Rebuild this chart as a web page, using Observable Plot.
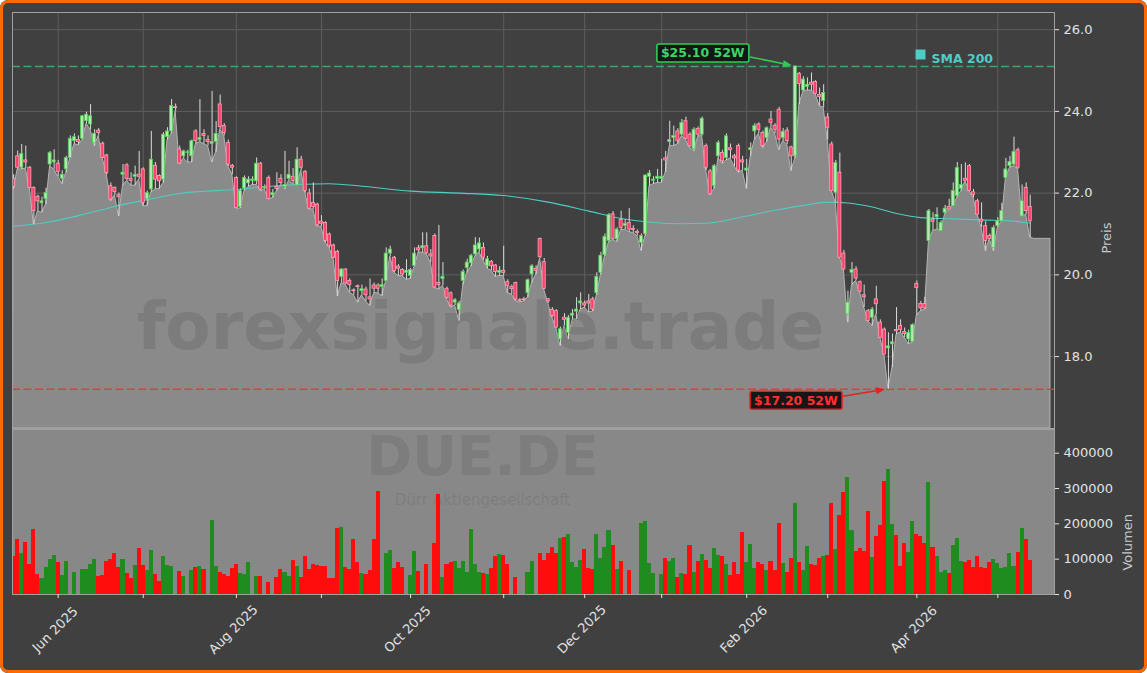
<!DOCTYPE html>
<html><head><meta charset="utf-8">
<script src="https://cdn.jsdelivr.net/npm/d3@7"></script>
<script src="https://cdn.jsdelivr.net/npm/@observablehq/plot@0.6"></script>
<style>
html,body{margin:0;padding:0;background:#ffffff;}
#wrap{position:relative;width:1147px;height:673px;background:#404040;border-radius:8px;overflow:hidden;}
#wrap svg{position:absolute;left:0;}
#border{position:absolute;left:0;top:0;width:1147px;height:673px;box-sizing:border-box;border:3px solid #ff6a00;border-radius:8px;pointer-events:none;z-index:5;}
</style></head>
<body><div id="wrap"><div id="border"></div></div>
<script>
// ---- data (trading-day index 0 = 2025-05-16) ----
const open = [
22.35,22.90,22.62,22.80,22.62,22.13,21.91,21.75,21.85,22.70,
22.75,22.72,22.35,22.58,22.86,23.27,23.30,23.33,23.76,23.68,
23.22,23.53,23.21,22.92,22.17,22.13,21.95,22.45,22.68,22.35,
22.40,22.45,22.58,21.85,22.09,22.67,22.42,22.33,23.37,23.51,
24.10,23.07,22.90,22.98,22.90,23.51,23.30,23.45,23.30,23.20,
23.25,24.17,23.64,23.23,22.67,22.37,21.66,22.11,22.24,22.30,
22.29,22.72,22.12,22.37,21.95,22.15,22.35,22.15,22.35,22.40,
22.19,22.82,22.52,21.99,21.76,21.72,21.30,21.27,20.99,20.72,
20.56,19.95,20.13,19.85,19.62,19.72,19.60,19.64,19.45,19.74,
19.74,19.70,19.85,20.52,20.42,20.20,20.12,20.05,19.97,20.22,
20.65,20.65,20.70,20.50,20.95,19.80,19.90,19.66,19.55,19.32,
19.14,19.85,20.17,20.28,20.50,20.62,20.66,20.21,20.32,20.23,
20.05,20.10,19.82,19.70,19.80,19.38,19.40,19.55,20.01,20.15,
20.88,20.31,19.40,19.14,19.11,18.42,18.95,18.58,19.00,19.10,
19.30,19.30,19.35,19.40,19.55,20.05,20.48,20.83,21.48,20.87,
21.34,21.20,21.27,21.12,21.05,20.78,21.00,22.40,22.30,22.35,
22.35,22.85,23.25,23.35,23.51,23.43,23.76,23.43,23.07,23.57,
23.43,23.15,22.53,22.17,22.90,22.98,22.86,23.10,22.90,23.15,
22.80,22.55,23.05,23.51,23.68,23.47,23.35,23.80,23.65,24.04,
23.35,23.53,23.12,22.90,24.92,24.51,24.60,24.70,24.72,24.40,
24.25,23.85,23.19,22.01,22.50,20.52,19.03,20.05,20.13,19.82,
19.50,19.11,18.95,19.40,18.83,18.66,18.20,18.30,18.65,18.75,
18.60,18.42,18.36,19.78,19.29,19.29,20.83,21.35,21.41,21.07,
21.52,21.66,21.68,21.93,22.10,22.35,22.66,22.02,21.80,21.35,
21.19,20.95,20.66,21.19,21.31,22.37,22.66,22.70,23.05,21.43,
22.13,21.66];
const high = [
22.45,23.03,23.19,23.15,22.65,22.15,21.95,21.90,22.12,23.02,
23.06,22.80,22.55,22.90,23.40,23.45,23.40,23.90,23.98,24.17,
23.55,23.58,23.25,22.95,22.25,22.15,22.00,22.70,22.72,22.50,
22.66,23.02,22.62,22.05,23.51,22.75,22.45,23.48,23.60,24.29,
24.18,23.15,23.05,23.05,23.30,23.55,24.29,23.55,23.40,24.49,
23.75,24.40,23.70,23.30,22.70,22.40,22.10,22.42,22.40,22.40,
22.86,22.75,22.20,22.42,22.09,22.50,22.45,23.02,22.78,22.60,
23.11,22.90,22.55,22.10,22.25,21.75,21.45,21.30,21.02,20.75,
20.60,20.15,20.15,19.90,19.66,19.75,19.75,19.70,19.90,19.80,
19.78,19.90,20.66,20.70,20.45,20.25,20.15,20.37,20.15,20.66,
20.72,21.03,21.03,20.62,21.00,21.21,20.30,19.70,19.58,19.42,
19.35,20.12,20.38,20.50,20.91,20.90,20.78,20.45,20.35,20.25,
20.20,20.70,19.88,19.75,19.82,19.42,19.45,19.90,20.25,20.22,
20.90,20.40,19.42,19.20,19.15,18.72,19.05,19.00,19.15,19.44,
19.56,19.36,19.52,19.45,20.05,20.55,21.00,21.50,21.55,21.15,
21.56,21.35,21.62,21.20,21.10,21.00,22.45,22.55,22.40,22.58,
22.83,23.02,23.76,23.64,23.58,23.80,23.86,23.48,23.60,23.62,
23.86,23.20,22.58,22.70,23.28,23.05,23.45,23.20,22.95,23.20,
22.90,22.82,23.23,23.70,23.72,23.52,23.62,24.00,23.70,24.10,
23.58,23.60,23.15,25.10,24.95,24.85,24.82,24.94,24.75,24.57,
24.65,23.95,23.25,22.80,22.98,20.60,19.60,20.30,20.20,19.85,
19.75,19.15,19.20,19.72,18.90,18.70,18.58,18.55,19.20,18.90,
18.70,18.65,18.80,19.85,19.35,19.45,21.60,21.52,21.64,21.32,
21.70,21.85,22.25,22.75,22.70,22.74,22.70,22.09,21.85,21.76,
21.30,21.00,21.20,21.40,21.75,22.85,22.90,23.37,23.10,22.20,
22.25,21.95];
const low = [
22.10,22.58,22.58,22.60,22.10,21.23,21.55,21.52,21.72,22.65,
22.58,22.40,22.22,22.50,22.85,23.20,23.17,23.30,23.70,23.55,
23.15,23.40,22.85,22.45,21.80,21.95,21.43,22.18,22.30,22.18,
22.18,22.33,21.68,21.68,22.02,22.09,22.10,22.25,23.30,23.45,
24.00,22.70,22.85,22.75,22.75,23.20,23.25,23.20,23.15,22.75,
23.00,23.55,23.40,22.65,22.45,21.62,21.62,22.05,22.15,22.20,
22.20,22.05,22.09,21.84,21.88,22.05,22.18,22.09,22.30,22.22,
22.18,22.55,22.00,21.60,21.60,21.18,21.18,20.78,20.65,20.40,
19.47,19.80,19.75,19.56,19.50,19.32,19.50,19.35,19.24,19.55,
19.55,19.48,19.85,20.45,20.05,19.97,19.97,19.88,19.90,20.20,
20.55,20.54,20.50,20.30,19.68,19.64,19.73,19.40,19.20,19.25,
18.87,19.75,20.05,20.20,20.46,20.55,20.35,20.15,20.10,19.95,
19.97,19.97,19.55,19.52,19.35,19.32,19.35,19.45,19.80,20.00,
20.40,19.64,19.30,18.95,18.70,18.26,18.75,18.42,18.90,18.91,
19.15,19.20,19.08,19.10,19.50,20.00,20.45,20.80,20.85,20.80,
21.10,21.10,21.05,21.02,20.95,20.58,20.95,22.17,22.22,22.25,
22.25,22.50,23.15,23.15,23.20,23.40,23.30,23.10,23.02,23.38,
23.40,22.55,21.95,22.10,22.85,22.72,22.80,22.85,22.65,22.50,
22.55,22.10,22.90,23.30,23.45,23.10,23.25,23.60,23.45,23.05,
23.27,23.19,22.54,22.85,24.17,24.49,24.51,24.51,24.43,24.13,
24.09,23.30,22.05,21.76,20.42,20.13,18.83,19.75,19.85,19.56,
19.20,18.87,18.75,19.03,18.46,18.05,17.20,17.73,18.54,18.59,
18.46,18.30,18.34,19.00,19.11,19.15,20.83,21.07,21.11,21.07,
21.49,21.60,21.68,21.89,22.05,22.29,22.05,21.88,21.47,21.15,
20.58,20.87,20.58,21.15,21.31,22.37,22.62,22.66,22.58,21.43,
21.47,20.91];
const close = [
22.15,22.62,22.96,22.75,22.13,21.56,21.80,21.80,22.00,22.98,
22.80,22.52,22.45,22.86,23.33,23.37,23.25,23.88,23.92,23.88,
23.45,23.47,22.86,22.49,21.84,22.03,21.90,22.50,22.35,22.30,
22.45,22.40,21.76,22.00,22.82,22.33,22.29,23.43,23.51,24.13,
24.08,22.72,23.02,23.00,23.27,23.27,23.35,23.40,23.25,23.25,
23.45,23.62,23.47,22.70,22.62,21.64,22.05,22.37,22.33,22.33,
22.72,22.09,22.15,21.86,22.00,22.10,22.25,22.20,22.45,22.30,
22.82,22.62,22.05,21.62,21.66,21.21,21.25,20.83,20.70,20.42,
19.85,20.13,19.79,19.75,19.60,19.70,19.65,19.50,19.40,19.66,
19.66,19.75,20.52,20.62,20.09,20.15,20.01,20.10,20.12,20.52,
20.60,20.70,20.54,20.45,19.69,19.75,19.95,19.44,19.25,19.38,
19.30,20.07,20.30,20.47,20.72,20.77,20.42,20.38,20.21,20.07,
20.10,20.05,19.73,19.65,19.40,19.36,19.38,19.87,20.21,20.10,
20.43,19.66,19.35,18.99,18.71,18.67,18.90,18.95,19.05,19.15,
19.35,19.25,19.30,19.15,19.95,20.47,20.93,21.46,20.87,21.11,
21.15,21.25,21.11,21.10,21.02,20.95,22.43,22.48,22.33,22.40,
22.40,22.80,23.30,23.40,23.27,23.72,23.33,23.15,23.55,23.43,
23.82,22.62,21.97,22.66,23.23,22.78,23.39,23.05,22.85,22.55,
22.75,22.60,23.10,23.64,23.55,23.15,23.59,23.72,23.55,23.31,
23.50,23.27,22.90,25.10,24.67,24.78,24.65,24.65,24.43,24.35,
24.45,23.60,22.05,22.74,20.42,20.13,19.32,20.12,19.91,19.59,
19.45,18.87,19.15,19.28,18.46,18.05,18.25,18.35,18.62,18.65,
18.55,18.58,18.77,19.68,19.18,19.18,21.56,21.30,21.47,21.27,
21.62,21.60,22.05,22.62,22.20,22.30,22.05,21.95,21.47,21.30,
20.83,20.88,21.15,21.31,21.56,22.58,22.76,23.01,22.62,21.80,
21.56,21.31];
// volume in thousands of shares
const volumeK = [
107,157,115,146,85,184,57,45,76,99,
110,90,54,93,0,62,0,71,70,85,
99,52,55,94,99,116,76,99,59,45,
82,130,82,68,124,57,37,107,82,79,
0,65,51,0,68,76,79,71,0,209,
79,62,57,51,74,85,59,57,91,0,
51,51,0,34,0,48,71,62,51,96,
79,48,107,71,85,82,79,79,45,45,
187,190,76,71,156,90,59,57,68,156,
291,0,116,124,74,90,76,0,54,122,
65,0,85,0,144,283,48,85,90,93,
74,93,62,184,85,62,59,57,74,107,
113,110,85,0,48,0,0,62,93,0,
116,96,116,133,116,158,161,170,90,76,
96,127,74,71,170,102,133,181,139,71,
93,0,68,0,0,201,207,88,59,0,
57,102,93,102,48,59,57,139,62,93,
113,96,74,130,110,107,85,54,90,57,
175,90,141,74,90,85,68,93,68,201,
88,62,102,257,90,68,136,85,82,102,
107,110,257,127,223,289,331,181,122,130,
122,235,105,164,195,320,354,198,167,79,
144,119,207,170,164,144,317,133,107,62,
68,59,139,158,93,90,96,76,107,76,
74,90,99,88,74,76,116,79,119,187,
156,96];
// lows of the padded days after the last candle (area continues flat)
const lowTail = [20.88, 20.88, 20.88, 20.88, 20.88];
// SMA 200 read at selected trading days
const smaIdx = [0,8,16,24,33,41,55,70,78,86,98,110,121,132,142,150,158,165,172,180,188,195,201,206,212,218,224,232,240,246,251];
const smaVal = [21.19,21.28,21.45,21.65,21.84,21.99,22.09,22.21,22.23,22.17,22.05,22.00,21.94,21.78,21.56,21.38,21.28,21.25,21.27,21.42,21.58,21.70,21.78,21.76,21.66,21.50,21.40,21.37,21.34,21.32,21.27];
// month ticks (trading-day index of first trading day of month)
const monthTicks = [11,32,55,76,98,121,141,160,181,201,223,243];
const monthNames = ["Jun 2025","Jul 2025","Aug 2025","Sep 2025","Oct 2025","Nov 2025","Dec 2025","Jan 2026","Feb 2026","Mar 2026","Apr 2026","May 2026"];
const priceTicks = [18, 20, 22, 24, 26];
const volTicks = [0, 100000, 200000, 300000, 400000];

// ---- build ----
const rows = open.map((o, i) => ({i, open: o, high: high[i], low: low[i], close: close[i], volume: volumeK[i] * 1000}));
const areaRows = rows.map(d => ({i: d.i, low: d.low})).concat(lowTail.map((v, k) => ({i: rows.length + k, low: v})));
const smaRows = smaIdx.map((i, k) => ({i, v: smaVal[k]}));
const labelRows = monthTicks.map((i, k) => ({i, label: monthNames[k]})).filter((d, k) => k % 2 === 0);
const up = d => d.close >= d.open;
const iHi = d3.maxIndex(high), iLo = d3.minIndex(low);
const hi52 = high[iHi], lo52 = low[iLo];

const xDomain = [-0.28, 257.0];
const yMin = 16.24, yMax = 26.42;
const FONT = "DejaVu Sans";
const baseStyle = {background: "transparent", fontFamily: FONT, fontSize: "13px", color: "#e2e2e2", overflow: "visible"};

const price = Plot.plot({
  width: 1147, height: 428,
  marginTop: 12, marginRight: 93, marginBottom: 0, marginLeft: 12,
  style: baseStyle,
  x: {type: "linear", domain: xDomain, axis: null},
  y: {domain: [yMin, yMax], axis: null},
  color: {type: "identity"},
  marks: [
    Plot.gridX(monthTicks, {stroke: "#5d5d5d", strokeOpacity: 1}),
    Plot.gridY(priceTicks, {stroke: "#5d5d5d", strokeOpacity: 1}),
    Plot.areaY(areaRows, {x: "i", y1: () => yMin, y2: "low", fill: "#8a8a8a", stroke: "#b4b4b4", strokeWidth: 1}),
    Plot.text(["forexsignale.trade"], {text: d => d, frameAnchor: "middle", dx: -53, dy: 107, fontSize: 66, fontWeight: "bold", fill: "#555555", fillOpacity: 0.25}),
    Plot.lineY(smaRows, {x: "i", y: "v", stroke: "#4ecdc4", strokeWidth: 1.1, curve: "monotone-x"}),
    Plot.ruleY([hi52], {stroke: "#3cb371", strokeOpacity: 0.9, strokeWidth: 1.5, strokeDasharray: "8,3.5"}),
    Plot.ruleY([lo52], {stroke: "#dd3b3b", strokeOpacity: 0.9, strokeWidth: 1.5, strokeDasharray: "8,3.5"}),
    Plot.ruleX(rows, {x: "i", y1: "low", y2: "high", stroke: "#dadada", strokeWidth: 1}),
    Plot.rect(rows, {x1: d => d.i - 0.38, x2: d => d.i + 0.38, y1: "open", y2: "close",
      fill: d => up(d) ? "#b6e8b6" : "#ff3f6c", stroke: d => up(d) ? "#4fd04f" : "#ffa0b2", strokeWidth: 0.8, clip: true}),
    Plot.frame({stroke: "#a0a0a0"}),
    Plot.axisY(priceTicks, {anchor: "right", tickFormat: d3.format(".1f"), tickSize: 4, tickPadding: 5, label: null}),
    Plot.text(["Preis"], {text: d => d, frameAnchor: "right", dx: 52, dy: 2, rotate: -90, fill: "#c8c8c8", fontSize: 13}),
    Plot.dot([0], {frameAnchor: "top-right", dx: -134, dy: 42, symbol: "square", r: 5.6, fill: "#4ecdc4", stroke: null}),
    Plot.text(["SMA 200"], {text: d => d, frameAnchor: "top-right", dx: -123, dy: 42, textAnchor: "start", fontWeight: "bold", fontSize: 12.5, fill: "#4ecdc4"})
  ]
});

const vol = Plot.plot({
  width: 1147, height: 245,
  marginTop: 1, marginRight: 93, marginBottom: 79, marginLeft: 12,
  style: baseStyle,
  x: {type: "linear", domain: xDomain, axis: null},
  y: {domain: [0, 467000], axis: null},
  color: {type: "identity"},
  marks: [
    Plot.frame({fill: "#888888", stroke: null}),
    Plot.text(["DUE.DE"], {text: d => d, frameAnchor: "middle", dx: -51, dy: -55, fontSize: 55, fontWeight: "bold", fill: "#555555", fillOpacity: 0.22}),
    Plot.text(["Dürr Aktiengesellschaft"], {text: d => d, frameAnchor: "middle", dx: -51, dy: -12, fontSize: 15, fill: "#555555", fillOpacity: 0.22}),
    Plot.rect(rows.filter(d => d.volume > 0), {x1: d => d.i - 0.5, x2: d => d.i + 0.5, y1: () => 0, y2: "volume",
      fill: d => up(d) ? "#1f8c1f" : "#ff0c0c", shapeRendering: "crispEdges", clip: true}),
    Plot.frame({stroke: "#a0a0a0"}),
    Plot.axisY(volTicks, {anchor: "right", tickFormat: d => String(d), tickSize: 4, tickPadding: 5, label: null}),
    Plot.axisX(monthTicks, {anchor: "bottom", tickSize: 4, tickFormat: () => "", label: null}),
    Plot.text(labelRows, {x: "i", text: "label", frameAnchor: "bottom", dy: 38, rotate: -45, fontSize: 13, fill: "#e2e2e2"}),
    Plot.text(["Volumen"], {text: d => d, frameAnchor: "right", dx: 73, dy: 2, rotate: -90, fill: "#c8c8c8", fontSize: 13})
  ]
});

const wrap = document.getElementById("wrap");
price.style.top = "0px";
vol.style.top = "428px";
wrap.insertBefore(price, wrap.firstChild);
wrap.insertBefore(vol, price.nextSibling);

// 52-week annotations: box + arrow, positioned from the library's scales
const sx = price.scale("x"), sy = price.scale("y");
function annotate(i, v, label, color, textColor, offX, offY) {
  const px = sx.apply(i), py = sy.apply(v);
  const cx = px + offX, cy = py + offY;
  const g = d3.select(price).append("g")
    .attr("font-family", FONT).attr("font-weight", "bold").attr("font-size", 12.5);
  const t = g.append("text").attr("x", cx).attr("y", cy)
    .attr("text-anchor", "middle").attr("dominant-baseline", "central")
    .attr("fill", textColor).text(label);
  const bb = t.node().getBBox();
  const bx = bb.x - 4, by = bb.y - 1.5, bw = bb.width + 8, bh = bb.height + 3;
  g.insert("rect", "text").attr("x", bx).attr("y", by).attr("width", bw).attr("height", bh)
    .attr("rx", 2).attr("fill", "#161616").attr("stroke", color).attr("stroke-width", 1.6);
  const x0 = bx + bw + 1, y0 = cy + (py > cy ? 4 : -4);
  const dxv = px - x0, dyv = py - y0, len = Math.hypot(dxv, dyv);
  const ux = dxv / len, uy = dyv / len, nx = -uy, ny = ux;
  const ex = px - 3 * ux, ey = py - 3 * uy;
  g.append("line").attr("x1", x0).attr("y1", y0).attr("x2", ex - 6 * ux).attr("y2", ey - 6 * uy)
    .attr("stroke", color).attr("stroke-width", 1.6);
  g.append("polygon").attr("points", [
    [ex, ey], [ex - 9 * ux + 3.5 * nx, ey - 9 * uy + 3.5 * ny], [ex - 9 * ux - 3.5 * nx, ey - 9 * uy - 3.5 * ny]
  ].map(p => p.join(",")).join(" ")).attr("fill", color);
}
annotate(iHi, hi52, `$${hi52.toFixed(2)} 52W`, "#2ecc52", "#3fd36a", -92, -13);
annotate(iLo, lo52, `$${lo52.toFixed(2)} 52W`, "#e52020", "#ff3030", -92, 11.5);
</script>
</body></html>
